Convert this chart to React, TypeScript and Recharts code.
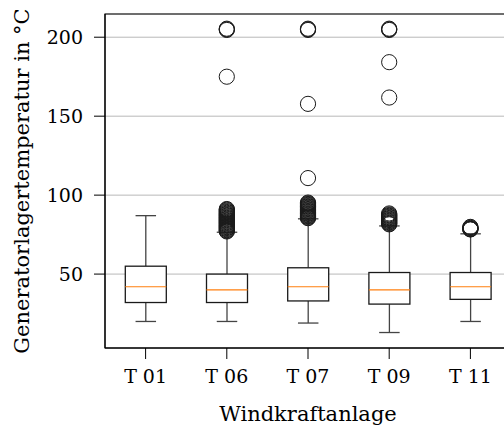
import React from "react";
import {
  ComposedChart, Bar, Scatter, XAxis, YAxis,
  CartesianGrid, ReferenceArea,
} from "recharts";

// ── Data ───────────────────────────────────────────────────────────────────
const CATEGORIES   = ["T 01", "T 06", "T 07", "T 09", "T 11"];
const WHISKER_LOW  = [20, 20, 19, 13, 20];
const Q1           = [32, 32, 33, 31, 34];
const MEDIAN       = [42, 40, 42, 40, 42];
const Q3           = [55, 50, 54, 51, 51];
const WHISKER_HIGH = [87, 76.5, 85, 80.5, 75.5];

const OUTLIERS_T06 = [
  77, 77.4, 77.8, 78.3, 78.8, 79.2, 79.7, 80.1, 80.6, 81, 81.5, 82, 82.4,
  82.9, 83.3, 83.8, 84.2, 84.7, 85.1, 85.6, 86, 86.5, 87, 87.4, 87.9, 88.3,
  88.8, 89.3, 89.8, 90.3, 90.8, 91.2, 175, 204.6, 205, 205.4,
];
const OUTLIERS_T07 = [
  85.4, 85.8, 86.3, 86.7, 87.2, 87.6, 88.1, 88.5, 89, 89.4, 89.9, 90.3, 90.8,
  91.2, 91.7, 92.1, 92.6, 93, 93.5, 93.9, 94.4, 94.8, 95.3, 110.8, 157.8,
  204.6, 205, 205.4,
];
const OUTLIERS_T09 = [
  81.5, 81.9, 82.4, 82.8, 83.3, 83.7, 84.2, 84.6, 85.1, 85.5, 86, 86.4, 86.9,
  87.3, 87.8, 88.4, 161.8, 184.2, 204.6, 205, 205.4,
];
const OUTLIERS_T11 = [78.3, 78.4, 78.6, 78.8, 79.2, 79.6, 79.9];

const Y_TICKS = [50, 100, 150, 200];
const Y_DOMAIN: [number, number] = [3.2, 214.7];

// ── Derived tables ─────────────────────────────────────────────────────────
const boxes = CATEGORIES.map((name, i) => ({
  name,
  low: WHISKER_LOW[i],
  q1: Q1[i],
  med: MEDIAN[i],
  q3: Q3[i],
  high: WHISKER_HIGH[i],
}));

const outliers = [
  ...OUTLIERS_T06.map((v) => ({ name: "T 06", v })),
  ...OUTLIERS_T07.map((v) => ({ name: "T 07", v })),
  ...OUTLIERS_T09.map((v) => ({ name: "T 09", v })),
  ...OUTLIERS_T11.map((v) => ({ name: "T 11", v })),
];

// ── Style tokens ───────────────────────────────────────────────────────────
const FONT = "'DejaVu Serif', serif";
const TEXT_COLOR = "#000";
const BOX_COLOR = "#1a1a1a";
const WHISKER_COLOR = "#444";
const MEDIAN_COLOR = "#ff7f0e";
const GRID_COLOR = "#b8b8b8";

// box drawn inside the whisker range bar the library positions
const BoxShape = (props: any) => {
  const { x, y, width, height, payload } = props;
  const top = Math.min(y, y + height);
  const bottom = Math.max(y, y + height);
  const ppu = (bottom - top) / (payload.high - payload.low);
  const py = (v: number) => bottom - (v - payload.low) * ppu;
  const cx = x + width / 2;
  const cap = width / 4;
  return (
    <g>
      <line x1={cx} x2={cx} y1={py(payload.low)} y2={py(payload.q1)} stroke={WHISKER_COLOR} strokeWidth={1.3} />
      <line x1={cx} x2={cx} y1={py(payload.q3)} y2={py(payload.high)} stroke={WHISKER_COLOR} strokeWidth={1.3} />
      <line x1={cx - cap} x2={cx + cap} y1={py(payload.low)} y2={py(payload.low)} stroke={WHISKER_COLOR} strokeWidth={1.3} />
      <line x1={cx - cap} x2={cx + cap} y1={py(payload.high)} y2={py(payload.high)} stroke={WHISKER_COLOR} strokeWidth={1.3} />
      <rect x={x} y={py(payload.q3)} width={width} height={py(payload.q1) - py(payload.q3)}
        fill="#fff" stroke={BOX_COLOR} strokeWidth={1.3} />
      <line x1={x} x2={x + width} y1={py(payload.med)} y2={py(payload.med)} stroke={MEDIAN_COLOR} strokeWidth={1.2} />
    </g>
  );
};

const Flier = (props: any) => (
  <circle cx={props.cx} cy={props.cy} r={7.6} fill="none" stroke={BOX_COLOR} strokeWidth={1} />
);

const App: React.FC = () => (
  <div style={{ position: "absolute", left: 0, top: 0, width: 504, height: 428, overflow: "hidden", background: "#fff" }}>
    <ComposedChart
      width={520}
      height={428}
      data={boxes}
      margin={{ top: 14, right: 9, left: 0, bottom: 0 }}
      barCategoryGap="25%"
    >
      <CartesianGrid horizontal vertical={false} stroke={GRID_COLOR} strokeWidth={1} />
      <XAxis
        dataKey="name"
        type="category"
        allowDuplicatedCategory={false}
        height={80}
        stroke="#000"
        tickSize={11}
        tickMargin={11}
        tick={{ fontSize: 19, fill: TEXT_COLOR, fontFamily: FONT }}
        label={{ value: "Windkraftanlage", position: "insideBottom", offset: 7, style: { fontSize: 21, fill: TEXT_COLOR, fontFamily: FONT } }}
      />
      <YAxis
        type="number"
        domain={Y_DOMAIN}
        allowDataOverflow
        ticks={Y_TICKS}
        interval={0}
        width={105}
        stroke="#000"
        tickSize={11}
        tickMargin={11}
        tick={{ fontSize: 19, fill: TEXT_COLOR, fontFamily: FONT }}
        label={{
          value: "Generatorlagertemperatur in °C",
          angle: -90,
          position: "insideLeft",
          offset: 22,
          style: { fontSize: 21, fill: TEXT_COLOR, fontFamily: FONT, textAnchor: "middle" },
        }}
      />
      <Bar dataKey={(d: any) => [d.low, d.high]} shape={BoxShape} isAnimationActive={false} />
      <Scatter data={outliers} dataKey="v" shape={Flier} isAnimationActive={false} />
      <ReferenceArea y1={Y_DOMAIN[0]} y2={Y_DOMAIN[1]} fill="none" fillOpacity={0} stroke="#000" strokeWidth={1.2} ifOverflow="visible" />
    </ComposedChart>
  </div>
);

export default App;
